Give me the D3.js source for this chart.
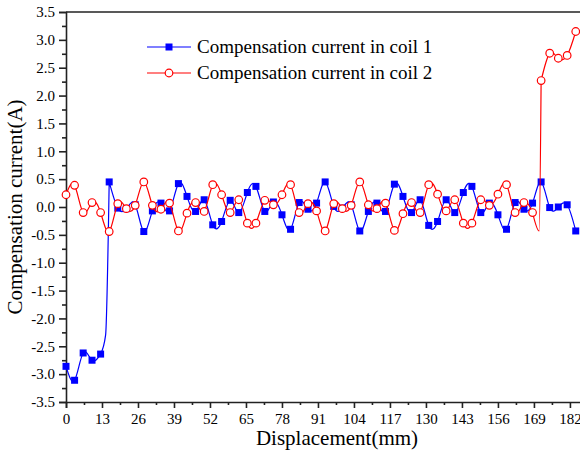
<!DOCTYPE html>
<html>
<head>
<meta charset="utf-8">
<script src="https://cdn.jsdelivr.net/npm/d3@7"></script>
<style>
  body { margin: 0; background: #fff; }
  svg text { font-family: "Liberation Serif", "DejaVu Serif", "Times New Roman", Times, serif; fill: #000; }
</style>
</head>
<body>
<div id="chart-area"></div>
<script>
/*
*    coil compensation current vs displacement
*/
var displacement = [0, 3.1, 6.2, 9.4, 12.5, 15.6, 18.7, 21.8, 25.0, 28.1,
    31.2, 34.3, 37.4, 40.6, 43.7, 46.8, 49.9, 53.0, 56.2, 59.3,
    62.4, 65.5, 68.6, 71.8, 74.9, 78.0, 81.1, 84.2, 87.4, 90.5,
    93.6, 96.7, 99.8, 103.0, 106.1, 109.2, 112.3, 115.4, 118.6, 121.7,
    124.8, 127.9, 131.0, 134.2, 137.3, 140.4, 143.5, 146.6, 149.8, 152.9,
    156.0, 159.1, 162.2, 165.4, 168.5, 171.6, 174.7, 177.8, 181.0, 184.1];

var coil1 = [-2.86, -3.11, -2.62, -2.75, -2.64, 0.45, -0.02, -0.03, 0.04, -0.44,
    -0.07, 0.07, -0.07, 0.42, 0.19, -0.08, 0.13, -0.32, -0.26, 0.12,
    -0.1, 0.26, 0.37, -0.08, 0.09, -0.14, -0.4, 0.08, -0.04, 0.07,
    0.45, 0.01, -0.02, 0.04, -0.43, -0.08, 0.07, -0.08, 0.41, 0.19,
    -0.1, 0.13, -0.33, -0.26, 0.13, -0.1, 0.26, 0.37, -0.1, 0.07,
    -0.14, -0.4, 0.08, -0.04, 0.07, 0.45, -0.01, 0.0, 0.04, -0.43];

var coil2 = [0.22, 0.39, -0.1, 0.08, -0.1, -0.44, 0.06, -0.03, 0.03, 0.45,
    0.03, -0.04, 0.07, -0.43, -0.11, 0.08, -0.08, 0.4, 0.22, -0.1,
    0.13, -0.29, -0.29, 0.12, 0.04, 0.22, 0.4, -0.1, 0.06, -0.07,
    -0.43, 0.06, -0.03, 0.03, 0.45, 0.04, -0.03, 0.07, -0.42, -0.12,
    0.08, -0.1, 0.4, 0.23, -0.07, 0.13, -0.29, -0.29, 0.13, 0.03,
    0.23, 0.4, -0.1, 0.08, -0.1, 2.27, 2.76, 2.67, 2.72, 3.15];

// unmarked points where the trace jumps, and the index the jump leads to
var coil1Jump = [[14.3, -2.3]];
var coil1JumpAt = 5;
var coil2Jump = [[170.9, -0.43]];
var coil2JumpAt = 55;

var seriesNames = ["Compensation current in coil 1", "Compensation current in coil 2"];

var xTicks = [0, 13, 26, 39, 52, 65, 78, 91, 104, 117, 130, 143, 156, 169, 182];
var yTicks = [-3.5, -3.0, -2.5, -2.0, -1.5, -1.0, -0.5, 0.0, 0.5, 1.0, 1.5, 2.0, 2.5, 3.0, 3.5];

var width = 580;
var height = 455;
var serif = "'Liberation Serif', 'DejaVu Serif', 'Times New Roman', Times, serif";

var x = d3.scaleLinear()
    .domain([0, 186])
    .range([66, 581]);

var y = d3.scaleLinear()
    .domain([-3.5, 3.5])
    .range([402, 12]);

var svg = d3.select("#chart-area")
.append("svg")
    .attr("width", width)
    .attr("height", height)
    .style("font-family", serif);

var xMinor = xTicks.slice(0, -1).map((d, i) => { return (d + xTicks[i + 1]) / 2; });
xMinor.push(182 + 6.5);
var yMinor = yTicks.slice(0, -1).map((d, i) => { return (d + yTicks[i + 1]) / 2; });

// top frame
svg.append("line")
    .attr("x1", 66).attr("x2", 581)
    .attr("y1", 12).attr("y2", 12)
    .attr("stroke", "#222")
    .attr("stroke-width", 1.6);

var xAxisGroup = svg.append("g")
    .attr("transform", "translate(0, 402)")
    .call(d3.axisBottom(x).tickValues(xTicks).tickSize(6).tickPadding(5)
        .tickFormat((d) => { return d; }));

svg.append("g")
    .attr("transform", "translate(0, 402)")
    .call(d3.axisBottom(x).tickValues(xMinor).tickSize(3).tickFormat(""))
    .select(".domain").remove();

var yAxisGroup = svg.append("g")
    .attr("transform", "translate(66, 0)")
    .call(d3.axisLeft(y).tickValues(yTicks).tickSize(7).tickPadding(4)
        .tickFormat((d) => { return d.toFixed(1); }));

svg.append("g")
    .attr("transform", "translate(66, 0)")
    .call(d3.axisLeft(y).tickValues(yMinor).tickSize(4).tickFormat(""))
    .select(".domain").remove();

svg.selectAll("g").attr("font-family", null);

svg.selectAll(".domain, .tick line")
    .attr("stroke", "#222")
    .attr("stroke-width", 1.6);

svg.selectAll(".tick text")
    .attr("font-size", "15px")
    .style("font-family", serif)
    .attr("fill", "#000");

svg.append("text")
    .attr("x", 337)
    .attr("y", 445)
    .attr("font-size", "21px")
    .attr("text-anchor", "middle")
    .style("font-family", serif)
    .text("Displacement(mm)");

svg.append("text")
    .attr("transform", "translate(22, 207) rotate(-90)")
    .attr("font-size", "21px")
    .attr("text-anchor", "middle")
    .style("font-family", serif)
    .text("Compensation current(A)");

var smooth = d3.line()
    .x((d) => { return x(d[0]); })
    .y((d) => { return y(d[1]); })
    .curve(d3.curveNatural);

var step = d3.line()
    .x((d) => { return x(d[0]); })
    .y((d) => { return y(d[1]); })
    .curve(d3.curveMonotoneX);

// smooth spline on each side of the jump, a plain rise through the jump
function tracePath(values, jump, at) {
    var pts = displacement.map((d, i) => { return [d, values[i]]; });
    var before = pts.slice(0, at);
    var after = pts.slice(at);
    var rise = [pts[at - 1]].concat(jump, [pts[at]]);
    return smooth(before) + step(rise) + smooth(after);
}

// coil 1
svg.append("path")
    .attr("d", tracePath(coil1, coil1Jump, coil1JumpAt))
    .attr("fill", "none")
    .attr("stroke", "#0000ff")
    .attr("stroke-width", 1.2);

svg.selectAll("rect.c1")
    .data(coil1)
    .enter()
    .append("rect")
        .attr("class", "c1")
        .attr("x", (d, i) => { return x(displacement[i]) - 3.5; })
        .attr("y", (d) => { return y(d) - 3.5; })
        .attr("width", 7)
        .attr("height", 7)
        .attr("fill", "#0000ff");

// coil 2
svg.append("path")
    .attr("d", tracePath(coil2, coil2Jump, coil2JumpAt))
    .attr("fill", "none")
    .attr("stroke", "#ff0000")
    .attr("stroke-width", 1.2);

svg.selectAll("circle.c2")
    .data(coil2)
    .enter()
    .append("circle")
        .attr("class", "c2")
        .attr("cx", (d, i) => { return x(displacement[i]); })
        .attr("cy", (d) => { return y(d); })
        .attr("r", 3.8)
        .attr("fill", "#fff")
        .attr("stroke", "#ff0000")
        .attr("stroke-width", 1.2);

// legend
var legend = svg.append("g");
var legendColors = ["#0000ff", "#ff0000"];
seriesNames.forEach((name, i) => {
    var ly = 47 + i * 26;
    legend.append("line")
        .attr("x1", 147).attr("x2", 191)
        .attr("y1", ly).attr("y2", ly)
        .attr("stroke", legendColors[i])
        .attr("stroke-width", 1.2);
    if (i == 0) {
        legend.append("rect")
            .attr("x", 165.5).attr("y", ly - 3.5)
            .attr("width", 7).attr("height", 7)
            .attr("fill", legendColors[i]);
    } else {
        legend.append("circle")
            .attr("cx", 169).attr("cy", ly)
            .attr("r", 3.8)
            .attr("fill", "#fff")
            .attr("stroke", legendColors[i])
            .attr("stroke-width", 1.2);
    }
    legend.append("text")
        .attr("x", 197)
        .attr("y", ly + 6)
        .attr("font-size", "19px")
        .style("font-family", serif)
        .text(name);
});
</script>
</body>
</html>
